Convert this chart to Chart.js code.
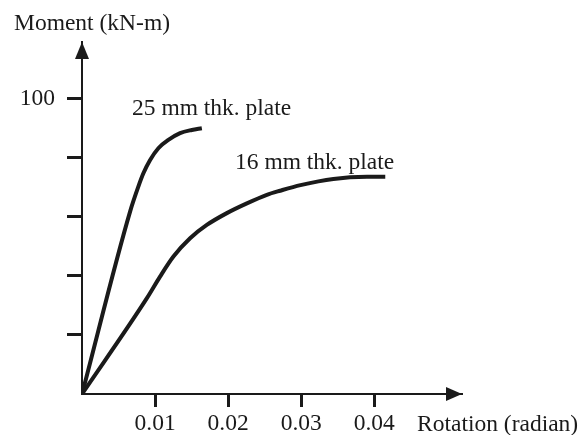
<!DOCTYPE html>
<html>
<head>
<meta charset="utf-8">
<script src="https://cdn.jsdelivr.net/npm/chart.js@4/dist/chart.umd.min.js"></script>
<style>
  html, body { margin: 0; padding: 0; background: #fff; }
  canvas { display: block; }
</style>
</head>
<body>
<canvas id="momentChart" width="581" height="435"></canvas>
<script>
// Data
const rotation25 = [0, 0.0066, 0.00771, 0.0084, 0.00932, 0.01045, 0.01182, 0.01342, 0.01503, 0.0164];
const moment25   = [0, 62.0, 70.3, 74.8, 79.3, 83.3, 86.1, 88.4, 89.5, 90.1];
const rotation16 = [0, 0.00886, 0.01068, 0.01251, 0.01479, 0.01708, 0.01982, 0.02256, 0.0253, 0.02712, 0.0299, 0.0344, 0.0390, 0.0415];
const moment16   = [0, 32.4, 39.8, 46.6, 52.8, 57.3, 61.3, 64.6, 67.5, 68.9, 70.8, 72.9, 73.6, 73.6];
const xTicks = [0.01, 0.02, 0.03, 0.04];
const yTicks = [20, 40, 60, 80, 100];
const yLabelled = [100];

const INK = '#1a1a1a';
const FONT = '23.5px "Liberation Serif", "Times New Roman", serif';

function toPoints(xs, ys) {
    return xs.map((x, i) => ({ x: x, y: ys[i] }));
}

// Arrow heads, axis titles and curve labels
const decorations = {
    id: 'decorations',
    beforeDraw(chart) {
        const ctx = chart.ctx;
        ctx.save();
        ctx.fillStyle = '#fff';
        ctx.fillRect(0, 0, chart.width, chart.height);
        ctx.restore();
    },
    afterDraw(chart) {
        const ctx = chart.ctx;
        const area = chart.chartArea;
        ctx.save();
        ctx.fillStyle = INK;

        // x arrow
        ctx.beginPath();
        ctx.moveTo(area.right, area.bottom);
        ctx.lineTo(area.right - 16, area.bottom - 7);
        ctx.lineTo(area.right - 16, area.bottom + 7);
        ctx.closePath();
        ctx.fill();

        // y arrow
        ctx.beginPath();
        ctx.moveTo(area.left, area.top);
        ctx.lineTo(area.left - 7, area.top + 17);
        ctx.lineTo(area.left + 7, area.top + 17);
        ctx.closePath();
        ctx.fill();

        ctx.font = FONT;
        ctx.textBaseline = 'alphabetic';
        ctx.textAlign = 'left';
        ctx.fillText('Moment (kN-m)', 14, 30);
        ctx.fillText('Rotation (radian)', 417, 431);
        ctx.fillText('25 mm thk. plate', 132, 115);
        ctx.fillText('16 mm thk. plate', 235, 169);
        ctx.restore();
    }
};

const lineStyle = {
    borderColor: INK,
    borderWidth: 4,
    pointRadius: 0,
    fill: false,
    cubicInterpolationMode: 'monotone'
};

new Chart(document.getElementById('momentChart'), {
    type: 'line',
    data: {
        datasets: [
            Object.assign({ label: '25 mm thk. plate', data: toPoints(rotation25, moment25) }, lineStyle),
            Object.assign({ label: '16 mm thk. plate', data: toPoints(rotation16, moment16) }, lineStyle)
        ]
    },
    options: {
        responsive: false,
        animation: false,
        layout: { padding: { top: 42, right: 119, left: 0, bottom: 0 } },
        plugins: {
            legend: { display: false },
            tooltip: { enabled: false }
        },
        scales: {
            x: {
                type: 'linear',
                min: 0,
                max: 0.052,
                afterBuildTicks: scale => { scale.ticks = xTicks.map(v => ({ value: v })); },
                afterFit: scale => { scale.height = 41; },
                border: { display: true, color: INK, width: 2 },
                grid: { drawOnChartArea: false, drawTicks: true, tickLength: 13, tickWidth: 3, tickColor: INK },
                ticks: {
                    autoSkip: false,
                    maxRotation: 0,
                    padding: 3,
                    color: INK,
                    font: { family: '"Liberation Serif", serif', size: 23.5 },
                    callback: v => String(v)
                }
            },
            y: {
                type: 'linear',
                min: 0,
                max: 119.3,
                afterBuildTicks: scale => { scale.ticks = yTicks.map(v => ({ value: v })); },
                afterFit: scale => { scale.width = 82; },
                border: { display: true, color: INK, width: 2 },
                grid: { drawOnChartArea: false, drawTicks: true, tickLength: 15, tickWidth: 3, tickColor: INK },
                ticks: {
                    autoSkip: false,
                    padding: 12,
                    color: INK,
                    font: { family: '"Liberation Serif", serif', size: 23.5 },
                    callback: v => yLabelled.includes(v) ? String(v) : ''
                }
            }
        }
    },
    plugins: [decorations]
});
</script>
</body>
</html>
